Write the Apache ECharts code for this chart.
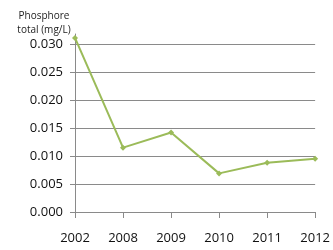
<!DOCTYPE html>
<html><head><meta charset="utf-8">
<script src="https://cdn.jsdelivr.net/npm/echarts@6/dist/echarts.min.js"></script>
<style>html,body{margin:0;padding:0;background:#fff}#c{width:333px;height:250px}</style>
</head><body><div id="c"></div>
<script>
const categories = ['2002','2008','2009','2010','2011','2012'];
const values = [0.0311, 0.0115, 0.0142, 0.0069, 0.0088, 0.0095];
const yTicks = [0, 0.005, 0.010, 0.015, 0.020, 0.025, 0.030];
const yTitle = 'Phosphore\ntotal (mg/L)';
const chart = echarts.init(document.getElementById('c'));
chart.setOption({
  animation: false,
  backgroundColor: '#fff',
  title: {
    text: yTitle, left: 39, top: 4, textAlign: 'center',
    textStyle: {fontSize: 10, fontWeight: 'normal', color: '#222', fontFamily: 'Open Sans', lineHeight: 14}
  },
  grid: {left: 75, right: 13, top: 34, bottom: 38},
  xAxis: {
    type: 'category', data: categories, boundaryGap: false,
    axisLine: {lineStyle: {color: '#8a8a8a', width: 1}},
    axisTick: {show: true, alignWithLabel: true, length: 6, lineStyle: {color: '#8a8a8a'}},
    axisLabel: {fontSize: 13, color: '#111', margin: 20, fontFamily: 'Open Sans'}
  },
  yAxis: {
    type: 'value', min: 0, max: 0.0318, interval: 0.005,
    axisLine: {show: true, lineStyle: {color: '#8a8a8a', width: 1}},
    axisTick: {show: true, length: 5, lineStyle: {color: '#8a8a8a'}, customValues: yTicks},
    splitLine: {lineStyle: {color: ['#8a8a8a','#8a8a8a','#8a8a8a','#8a8a8a','#8a8a8a','#8a8a8a','#8a8a8a','rgba(0,0,0,0)'], width: 1}},
    axisLabel: {fontSize: 13, color: '#111', margin: 12, fontFamily: 'Open Sans', customValues: yTicks,
      formatter: v => v.toFixed(3)}
  },
  series: [{
    type: 'line', data: values,
    lineStyle: {color: '#9bbb59', width: 2},
    itemStyle: {color: '#9bbb59'},
    symbol: 'diamond', symbolSize: 6
  }]
});
</script></body></html>
